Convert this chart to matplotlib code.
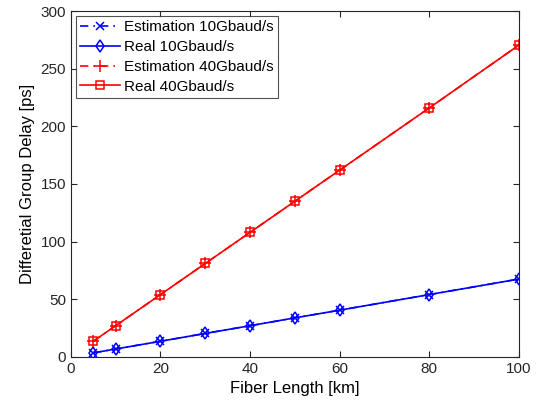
import matplotlib
matplotlib.use("Agg")
import matplotlib.pyplot as plt

plt.rcParams['font.family'] = ['Liberation Sans', 'DejaVu Sans']

fiber_km = [5, 10, 20, 30, 40, 50, 60, 80, 100]
est_10g = [3.4, 6.8, 13.5, 20.3, 27.0, 33.8, 40.5, 54.0, 67.5]
real_10g = [3.4, 6.8, 13.5, 20.3, 27.0, 33.8, 40.5, 54.0, 67.5]
est_40g = [13.5, 27.0, 54.0, 81.0, 108.0, 135.0, 162.0, 216.0, 270.5]
real_40g = [13.5, 27.0, 54.0, 81.0, 108.0, 135.0, 162.0, 216.0, 270.5]
labels = ['Estimation 10Gbaud/s', 'Real 10Gbaud/s', 'Estimation 40Gbaud/s', 'Real 40Gbaud/s']

fig = plt.figure(figsize=(5.45, 4.13), dpi=100)
ax = fig.add_axes([0.130, 0.136, 0.822, 0.837])

dashdot = (0, (5, 3, 1, 3))
ax.plot(fiber_km, est_10g, linestyle=dashdot, color='blue', marker='x', ms=6, mew=1.1, lw=1.2, label=labels[0])
ax.plot(fiber_km, real_10g, '-', color='blue', marker='d', ms=6, mfc='none', mew=1.1, lw=1.2, label=labels[1])
ax.plot(fiber_km, est_40g, linestyle=dashdot, color='red', marker='+', ms=8, mew=1.1, lw=1.2, label=labels[2])
ax.plot(fiber_km, real_40g, '-', color='red', marker='s', ms=5.5, mfc='none', mew=1.1, lw=1.2, label=labels[3])

ax.set_xlim(0, 100)
ax.set_ylim(0, 300)
ax.set_xticks([0, 20, 40, 60, 80, 100])
ax.set_yticks([0, 50, 100, 150, 200, 250, 300])
ax.tick_params(direction='in', top=True, right=True, labelsize=11, colors='#262626', length=4)
for s in ax.spines.values():
    s.set_color('#262626')
    s.set_linewidth(0.8)
ax.set_xlabel('Fiber Length [km]', fontsize=12)
ax.set_ylabel('Differetial Group Delay [ps]', fontsize=12)

leg = ax.legend(loc='upper left', fontsize=11, frameon=True, fancybox=False, edgecolor='#262626',
                borderpad=0.25, labelspacing=0.38, handlelength=2.6, handletextpad=0.3,
                borderaxespad=0.35)
leg.get_frame().set_linewidth(0.8)

fig.savefig('out.png', dpi=100)
